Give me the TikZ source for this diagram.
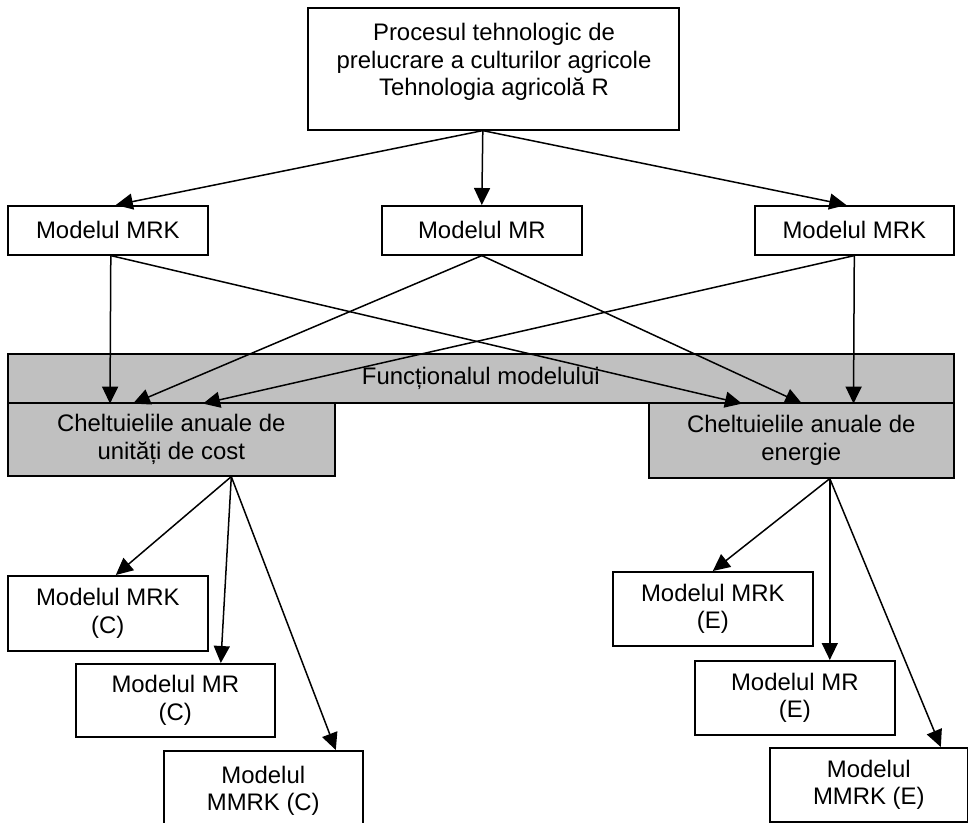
\documentclass[tikz,border=0pt]{standalone}
\usepackage{fontspec}
\setmainfont{Liberation Sans}
\usetikzlibrary{arrows.meta,calc}
\definecolor{boxgray}{RGB}{192,192,192}
\begin{document}
\begin{tikzpicture}[x=1pt,y=-1pt,
  txt/.style={align=center, font=\fontsize{23.9}{27.5}\selectfont},
  box/.style={txt, draw=black, line width=1.6pt, fill=white, rectangle, inner sep=0pt, anchor=north west},
  graybox/.style={box, fill=boxgray},
  arr/.style={line width=1.5pt, -{Triangle[length=17pt,width=16pt]}}]
\useasboundingbox (0,0) rectangle (968,822);

% top
\node[box, minimum width=371, minimum height=122] (top) at (307,7) {};
\node[txt] (toptext) at (494,62) {Procesul tehnologic de\\prelucrare a culturilor agricole\\Tehnologia agricolă R};

% middle row
\node[box, minimum width=200, minimum height=49] (mrkA) at (7,205) {Modelul MRK};
\node[box, minimum width=200, minimum height=49] (mr) at (381,205) {Modelul MR};
\node[box, minimum width=199, minimum height=49] (mrkB) at (754,205) {Modelul MRK};

% band and gray boxes
\node[graybox, minimum width=946, minimum height=49] (band) at (7,353) {Funcționalul modelului};
\node[graybox, minimum width=327, minimum height=73] (cost) at (7,402) {Cheltuielile anuale de\\unități de cost};
\node[graybox, minimum width=305, minimum height=75] (energy) at (648,402) {Cheltuielile anuale de\\energie};

% bottom boxes
\node[box, minimum width=200, minimum height=75] (mrkC) at (7,575) {Modelul MRK\\(C)};
\node[box, minimum width=199, minimum height=73] (mrC) at (75,663) {Modelul MR\\(C)};
\node[box, minimum width=199, minimum height=80] (mmrkC) at (163,750) {Modelul\\MMRK (C)};
\node[box, minimum width=200, minimum height=74] (mrkE) at (612,571) {Modelul MRK\\(E)};
\node[box, minimum width=200, minimum height=74] (mrE) at (694,660) {Modelul MR\\(E)};
\node[box, minimum width=198, minimum height=74] (mmrkE) at (769,747) {Modelul\\MMRK (E)};

% top arrows
\coordinate (topsrc) at ([xshift=-10.5]top.south);
\draw[arr] (topsrc) -- ([xshift=8]mrkA.north);
\draw[arr] (topsrc) -- (mr.north);
\draw[arr] (topsrc) -- ([xshift=-8]mrkB.north);

% middle arrows
\coordinate (srcA) at ([xshift=3]mrkA.south);
\draw[arr] (srcA) -- ([xshift=103]band.south west);
\draw[arr] (srcA) -- ([xshift=735]band.south west);
\draw[arr] (mr.south) -- ([xshift=126]band.south west);
\draw[arr] (mr.south) -- ([xshift=795]band.south west);
\draw[arr] (mrkB.south) -- ([xshift=196]band.south west);
\draw[arr] (mrkB.south) -- ([xshift=846.5]band.south west);

% lower arrows
\coordinate (costsrc) at ([xshift=60]cost.south);
\draw[arr] (costsrc) -- ([xshift=8]mrkC.north);
\draw[arr] (costsrc) -- ([xshift=45.5]mrC.north);
\draw[arr] (costsrc) -- ([xshift=72.5]mmrkC.north);
\coordinate (esrc) at ([xshift=28.5]energy.south);
\draw[arr] (esrc) -- (mrkE.north);
\draw[arr] (esrc) -- ([xshift=35]mrE.north);
\draw[arr] (esrc) -- ([xshift=72]mmrkE.north);
\end{tikzpicture}
\end{document}
